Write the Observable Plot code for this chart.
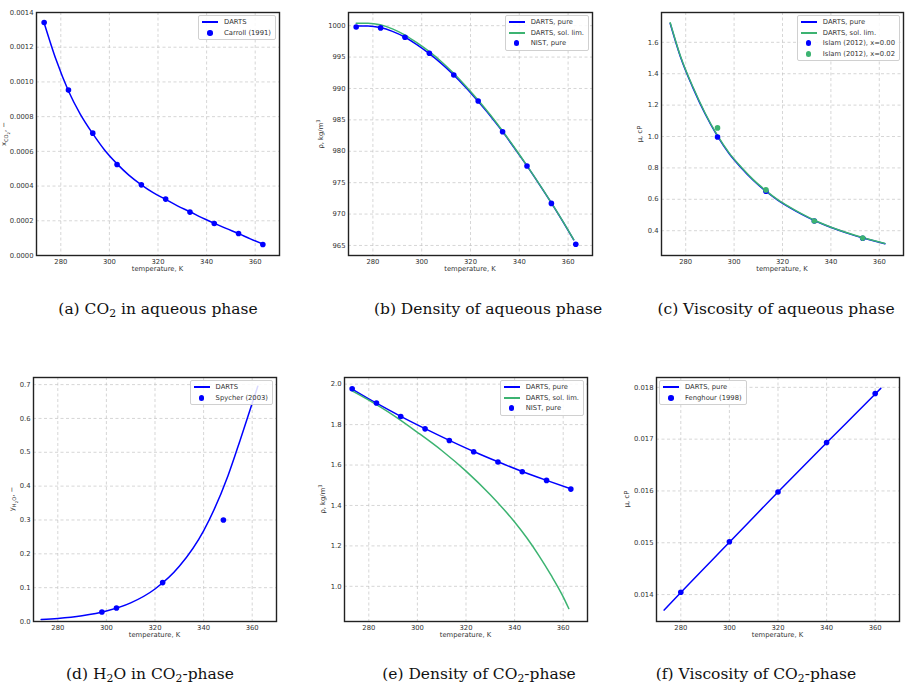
<!DOCTYPE html>
<html><head><meta charset="utf-8">
<script src="https://cdn.jsdelivr.net/npm/d3@7"></script>
<script src="https://cdn.jsdelivr.net/npm/@observablehq/plot@0.6"></script>
<style>
body{margin:0;background:#fff}
#fig{position:relative;width:914px;height:685px;overflow:hidden;font-family:"DejaVu Sans",sans-serif}
#fig svg{position:absolute}
.lbl{position:absolute;font-size:6.8px;color:#333;white-space:nowrap;line-height:1}
.ylbl{transform:translate(-50%,-50%) rotate(-90deg)}
.xlbl{transform:translate(-50%,0)}
.lbl sub{font-size:75%;vertical-align:-0.35em;line-height:0}
.lbl sup{font-size:75%;vertical-align:0.45em;line-height:0}
.legend{position:absolute;background:rgba(255,255,255,0.85);border:1px solid #d0d0d0;border-radius:2px;padding:1px 4px 1px 2px;font-size:6.8px;color:#333}
.legend .row{display:flex;align-items:center;height:10.5px;white-space:nowrap}
.legend .sw{width:20px;height:10px;position:relative;margin-right:3px}
.legend .ln{position:absolute;left:1px;top:4px;width:16px;height:2px}
.legend .dt{position:absolute;left:6px;top:2.2px;width:5.6px;height:5.6px;border-radius:50%}
.cap{position:absolute;font-family:"DejaVu Serif",serif;font-size:15.5px;color:#111;white-space:nowrap;line-height:1;transform:translate(-50%,0)}
.cap sub{font-size:70%;vertical-align:-0.3em;line-height:0}
</style></head>
<body><div id="fig"></div>
<script>
// ---------- DATA ----------
const xTicks = [280, 300, 320, 340, 360];
const tempPts10 = [273.15, 283.15, 293.15, 303.15, 313.15, 323.15, 333.15, 343.15, 353.15, 363.15];

// (a) CO2 mole fraction in aqueous phase
const tA_line = [273.15, 278, 283.15, 288, 293.15, 298, 303.15, 308, 313.15, 318, 323.15, 328, 333.15, 338, 343.15, 348, 353.15, 358, 363.15];
const dartsA = [0.00134, 0.00113, 0.000948, 0.000815, 0.000702, 0.000608, 0.000528, 0.000463, 0.000407, 0.000362, 0.000323, 0.000286, 0.000252, 0.000218, 0.000186, 0.000156, 0.000126, 0.000096, 0.000066];
const carroll = [0.001342, 0.000953, 0.000705, 0.000524, 0.000407, 0.000325, 0.000250, 0.000184, 0.000127, 0.0000634];
const yTicksA = [0, 0.0002, 0.0004, 0.0006, 0.0008, 0.0010, 0.0012, 0.0014];

// (b) density of aqueous phase
const tB_line = [273.15, 278, 283, 288, 293, 298, 303, 308, 313, 318, 323, 328, 333, 338, 343, 348, 353, 358, 362.3];
const dartsPureB = [999.95, 999.95, 999.7, 999.1, 998.2, 997.0, 995.6, 994.0, 992.2, 990.2, 988.0, 985.7, 983.2, 980.5, 977.75, 974.85, 971.85, 968.7, 965.9];
const dartsSolB = [1000.4, 1000.4, 1000.15, 999.5, 998.55, 997.3, 995.9, 994.3, 992.45, 990.4, 988.2, 985.85, 983.3, 980.6, 977.8, 974.9, 971.9, 968.75, 965.95];
const nistB = [999.8, 999.65, 998.15, 995.6, 992.15, 988.0, 983.1, 977.66, 971.7, 965.2];
const yTicksB = [965, 970, 975, 980, 985, 990, 995, 1000];

// (c) viscosity of aqueous phase
const tC_line = [273.6, 278, 283, 288, 293, 298, 303, 308, 313, 318, 323, 328, 333, 338, 343, 348, 353, 358, 362.3];
const dartsPureC = [1.72, 1.50, 1.31, 1.145, 1.005, 0.89, 0.80, 0.72, 0.653, 0.595, 0.547, 0.504, 0.466, 0.433, 0.404, 0.378, 0.355, 0.334, 0.317];
const dartsSolC = [1.725, 1.505, 1.315, 1.15, 1.01, 0.894, 0.804, 0.724, 0.657, 0.598, 0.55, 0.507, 0.468, 0.435, 0.406, 0.38, 0.357, 0.336, 0.319];
const tIslam = [293.15, 313.15, 333.15, 353.15];
const islam000 = [0.997, 0.651, 0.462, 0.352];
const islam002 = [1.055, 0.660, 0.462, 0.353];
const yTicksC = [0.4, 0.6, 0.8, 1.0, 1.2, 1.4, 1.6];

// (d) H2O in CO2 phase
const tD_line = [273.15, 280, 290, 300, 310, 320, 330, 340, 350, 355, 360, 362.3];
const dartsD = [0.006, 0.009, 0.017, 0.031, 0.055, 0.096, 0.163, 0.268, 0.43, 0.535, 0.645, 0.695];
const tSpycher = [298.15, 304.15, 323.15, 348.15];
const spycher = [0.028, 0.040, 0.115, 0.300];
const yTicksD = [0, 0.1, 0.2, 0.3, 0.4, 0.5, 0.6, 0.7];

// (e) density of CO2 phase
const dartsPureE = [1.976, 1.906, 1.841, 1.780, 1.722, 1.667, 1.616, 1.568, 1.524, 1.482];
const tE_sol = [273.15, 280, 290, 300, 310, 320, 330, 340, 345, 350, 355, 360, 362.3];
const dartsSolE = [1.967, 1.921, 1.847, 1.762, 1.672, 1.57, 1.453, 1.318, 1.24, 1.152, 1.055, 0.948, 0.89];
const nistE = [1.977, 1.907, 1.840, 1.779, 1.721, 1.666, 1.615, 1.567, 1.524, 1.481];
const yTicksE = [1.0, 1.2, 1.4, 1.6, 1.8, 2.0];

// (f) viscosity of CO2 phase
const tF_line = [273.15, 280, 300, 320, 340, 360, 362.3];
const dartsF = [0.0137, 0.01404, 0.01501, 0.01598, 0.01693, 0.01787, 0.01798];
const tFenghour = [280, 300, 320, 340, 360];
const fenghour = [0.014045, 0.01502, 0.01598, 0.016935, 0.01788];
const yTicksF = [0.014, 0.015, 0.016, 0.017, 0.018];

// ---------- STYLE ----------
const BLUE = "#0000ff", GREEN = "#3cb371";
const pts = (ts, vs) => ts.map((t, i) => ({t, v: vs[i]}));
const lineMark = (ts, vs, color) => Plot.line(pts(ts, vs), {x: "t", y: "v", stroke: color, strokeWidth: 1.5, curve: "monotone-x"});
const dotMark = (ts, vs, color) => Plot.dot(pts(ts, vs), {x: "t", y: "v", fill: color, r: 2.8});

const panels = [
  {svg: {left: 0, top: 0, width: 300, height: 280}, frame: {x0: 36, x1: 279, y0: 12, y1: 255},
   yDomain: [0, 0.0014], yTicks: yTicksA, fmt: d3.format(".4f"),
   marks: [lineMark(tA_line, dartsA, BLUE), dotMark(tempPts10, carroll, BLUE)],
   ylabel: "x<sub>CO<sub>2</sub></sub>, −", ylx: 5,
   legend: {side: "right", items: [["line", BLUE, "DARTS"], ["dot", BLUE, "Carroll (1991)"]]}},
  {svg: {left: 300, top: 0, width: 305, height: 280}, frame: {x0: 348, x1: 592, y0: 12, y1: 255},
   yDomain: [963.4, 1002.1], yTicks: yTicksB, fmt: d3.format("d"),
   marks: [lineMark(tB_line, dartsPureB, BLUE), lineMark(tB_line, dartsSolB, GREEN), dotMark(tempPts10, nistB, BLUE)],
   ylabel: "ρ, kg/m<sup>3</sup>", ylx: 321,
   legend: {side: "right", items: [["line", BLUE, "DARTS, pure"], ["line", GREEN, "DARTS, sol. lim."], ["dot", BLUE, "NIST, pure"]]}},
  {svg: {left: 610, top: 0, width: 304, height: 280}, frame: {x0: 661, x1: 903, y0: 12, y1: 255},
   yDomain: [0.242, 1.79], yTicks: yTicksC, fmt: d3.format(".1f"),
   marks: [lineMark(tC_line, dartsPureC, BLUE), lineMark(tC_line, dartsSolC, GREEN), dotMark(tIslam, islam000, BLUE), dotMark(tIslam, islam002, GREEN)],
   ylabel: "μ, cP", ylx: 640,
   legend: {side: "right", items: [["line", BLUE, "DARTS, pure"], ["line", GREEN, "DARTS, sol. lim."], ["dot", BLUE, "Islam (2012), x=0.00"], ["dot", GREEN, "Islam (2012), x=0.02"]]}},
  {svg: {left: 0, top: 345, width: 300, height: 295}, frame: {x0: 33, x1: 276, y0: 377, y1: 621},
   yDomain: [0, 0.721], yTicks: yTicksD, fmt: d3.format(".1f"),
   marks: [lineMark(tD_line, dartsD, BLUE), dotMark(tSpycher, spycher, BLUE)],
   ylabel: "y<sub>H<sub>2</sub>O</sub>, −", ylx: 13,
   legend: {side: "right", items: [["line", BLUE, "DARTS"], ["dot", BLUE, "Spycher (2003)"]]}},
  {svg: {left: 300, top: 345, width: 305, height: 295}, frame: {x0: 344, x1: 587, y0: 377, y1: 621},
   yDomain: [0.826, 2.033], yTicks: yTicksE, fmt: d3.format(".1f"),
   marks: [lineMark(tempPts10, dartsPureE, BLUE), lineMark(tE_sol, dartsSolE, GREEN), dotMark(tempPts10, nistE, BLUE)],
   ylabel: "ρ, kg/m<sup>3</sup>", ylx: 323,
   legend: {side: "right", items: [["line", BLUE, "DARTS, pure"], ["line", GREEN, "DARTS, sol. lim."], ["dot", BLUE, "NIST, pure"]]}},
  {svg: {left: 610, top: 345, width: 304, height: 295}, frame: {x0: 656, x1: 899, y0: 377, y1: 621},
   yDomain: [0.01348, 0.01819], yTicks: yTicksF, fmt: d3.format(".3f"),
   marks: [lineMark(tF_line, dartsF, BLUE), dotMark(tFenghour, fenghour, BLUE)],
   ylabel: "μ, cP", ylx: 627,
   legend: {side: "left", items: [["line", BLUE, "DARTS, pure"], ["dot", BLUE, "Fenghour (1998)"]]}}
];

const captions = [
  {html: "(a) CO<sub>2</sub> in aqueous phase", cx: 158, cy: 310},
  {html: "(b) Density of aqueous phase", cx: 488, cy: 310},
  {html: "(c) Viscosity of aqueous phase", cx: 776, cy: 310},
  {html: "(d) H<sub>2</sub>O in CO<sub>2</sub>-phase", cx: 150, cy: 675},
  {html: "(e) Density of CO<sub>2</sub>-phase", cx: 479, cy: 675},
  {html: "(f) Viscosity of CO<sub>2</sub>-phase", cx: 756, cy: 675}
];

// ---------- RENDER ----------
const fig = document.getElementById("fig");
const gridStyle = {stroke: "#c4c4c4", strokeOpacity: 1, strokeWidth: 0.7, strokeDasharray: "3,2.5"};

for (const p of panels) {
  const s = p.svg, f = p.frame;
  const chart = Plot.plot({
    width: s.width, height: s.height,
    marginLeft: f.x0 - s.left, marginRight: s.left + s.width - f.x1,
    marginTop: f.y0 - s.top, marginBottom: s.top + s.height - f.y1,
    x: {domain: [270, 370]},
    y: {domain: p.yDomain},
    style: {fontFamily: "DejaVu Sans", fontSize: "6.8px", color: "#333", background: "transparent", overflow: "visible"},
    marks: [
      Plot.gridX(xTicks, gridStyle),
      Plot.gridY(p.yTicks, gridStyle),
      Plot.axisX(xTicks, {tickSize: 0, tickPadding: 4, label: null}),
      Plot.axisY(p.yTicks, {tickSize: 0, tickPadding: 3, tickFormat: p.fmt, label: null}),
      ...p.marks,
      Plot.frame({stroke: "#222", strokeWidth: 1.4})
    ]
  });
  chart.style.left = s.left + "px";
  chart.style.top = s.top + "px";
  fig.appendChild(chart);

  const xl = document.createElement("div");
  xl.className = "lbl xlbl";
  xl.textContent = "temperature, K";
  xl.style.left = ((f.x0 + f.x1) / 2) + "px";
  xl.style.top = (f.y1 + 11) + "px";
  fig.appendChild(xl);

  const yl = document.createElement("div");
  yl.className = "lbl ylbl";
  yl.innerHTML = p.ylabel;
  yl.style.left = p.ylx + "px";
  yl.style.top = ((f.y0 + f.y1) / 2) + "px";
  fig.appendChild(yl);

  const lg = document.createElement("div");
  lg.className = "legend";
  lg.style.top = (f.y0 + 3) + "px";
  if (p.legend.side === "right") lg.style.right = (914 - f.x1 + 3) + "px";
  else lg.style.left = (f.x0 + 3) + "px";
  for (const [kind, color, label] of p.legend.items) {
    const row = document.createElement("div");
    row.className = "row";
    const sw = document.createElement("div");
    sw.className = "sw";
    const mk = document.createElement("div");
    mk.className = kind === "line" ? "ln" : "dt";
    mk.style.background = color;
    sw.appendChild(mk);
    const tx = document.createElement("span");
    tx.textContent = label;
    row.appendChild(sw);
    row.appendChild(tx);
    lg.appendChild(row);
  }
  fig.appendChild(lg);
}

for (const c of captions) {
  const d = document.createElement("div");
  d.className = "cap";
  d.innerHTML = c.html;
  d.style.left = c.cx + "px";
  d.style.top = (c.cy - 8) + "px";
  fig.appendChild(d);
}
</script>
</body></html>
